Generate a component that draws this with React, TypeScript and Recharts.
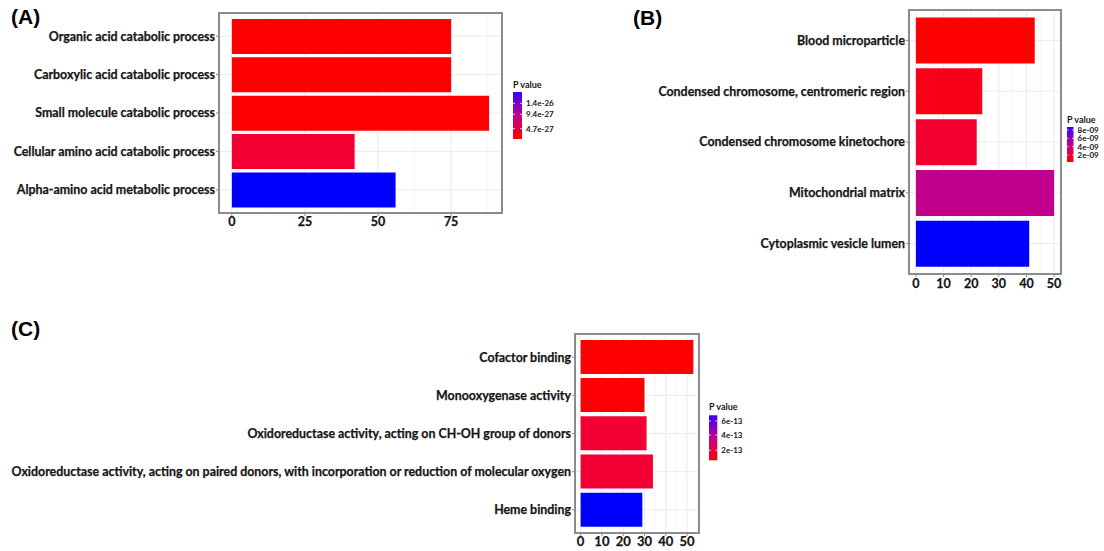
import React from 'react';
import { BarChart, Bar, XAxis, YAxis, CartesianGrid, Cell } from 'recharts';

// ---------- Data ----------
const categoriesA = [
  'Organic acid catabolic process',
  'Carboxylic acid catabolic process',
  'Small molecule catabolic process',
  'Cellular amino acid catabolic process',
  'Alpha-amino acid metabolic process',
];
const countsA = [75, 75, 88, 42, 56];
const xTicksA = [0, 25, 50, 75];
const minorTicksA = [12.5, 37.5, 62.5, 87.5];
const legendLabelsA = ['1.4e-26', '9.4e-27', '4.7e-27'];

const categoriesB = [
  'Blood microparticle',
  'Condensed chromosome, centromeric region',
  'Condensed chromosome kinetochore',
  'Mitochondrial matrix',
  'Cytoplasmic vesicle lumen',
];
const countsB = [43, 24, 22, 50, 41];
const xTicksB = [0, 10, 20, 30, 40, 50];
const minorTicksB = [5, 15, 25, 35, 45];
const legendLabelsB = ['8e-09', '6e-09', '4e-09', '2e-09'];

const categoriesC = [
  'Cofactor binding',
  'Monooxygenase activity',
  'Oxidoreductase activity, acting on CH-OH group of donors',
  'Oxidoreductase activity, acting on paired donors, with incorporation or reduction of molecular oxygen',
  'Heme binding',
];
const countsC = [53, 30, 31, 34, 29];
const xTicksC = [0, 10, 20, 30, 40, 50];
const minorTicksC = [5, 15, 25, 35, 45, 55];
const legendLabelsC = ['6e-13', '4e-13', '2e-13'];

// ---------- Styles ----------
const fillsA = ['#FF0000', '#FF0000', '#FF0000', '#F20034', '#0000FF'];
const fillsB = ['#FF0000', '#F90018', '#F3002E', '#C3008C', '#0000FF'];
const fillsC = ['#FF0000', '#FE0004', '#F20034', '#F20034', '#0000FF'];

const LABEL_FONT = 'Lato, "Open Sans", sans-serif';
const TITLE_FONT = '"Liberation Sans", Arial, sans-serif';
const BORDER = '#8c8c8c';
const TEXT = '#161616';

type Box = { l: number; t: number; r: number; b: number };

type PanelProps = {
  categories: string[];
  values: number[];
  fills: string[];
  domain: [number, number];
  ticks: number[];
  minor: number[];
  chart: { left: number; top: number; w: number; h: number };
  plot: Box;
  pad: number;
  yFont: number;
  xFont: number;
  xDy: number;
};

function Panel(p: PanelProps) {
  const rows = p.categories.map((c, i) => ({ name: c, value: p.values[i] }));
  const yWidth = p.plot.l - p.chart.left;
  const xHeight = p.chart.top + p.chart.h - p.plot.b;
  const mTop = p.plot.t - p.chart.top;
  const mRight = p.chart.left + p.chart.w - p.plot.r;

  const YTick = (props: any) => {
    const { x, y, payload } = props;
    return (
      <text
        x={x}
        y={y}
        dy={p.yFont * 0.36}
        textAnchor="end"
        fontFamily={LABEL_FONT}
        fontWeight={700}
        fontSize={p.yFont}
        fill={TEXT}
        stroke={TEXT}
        strokeWidth={0.25}
      >
        {payload.value}
      </text>
    );
  };
  const XTick = (props: any) => {
    const { x, y, payload } = props;
    return (
      <text
        x={x}
        y={y}
        dy={p.xDy}
        textAnchor="middle"
        fontFamily={LABEL_FONT}
        fontWeight={700}
        fontSize={p.xFont}
        fill={TEXT}
        stroke={TEXT}
        strokeWidth={0.25}
      >
        {payload.value}
      </text>
    );
  };

  return (
    <>
      <div style={{ position: 'absolute', left: p.chart.left, top: p.chart.top }}>
        <BarChart
          width={p.chart.w}
          height={p.chart.h}
          data={rows}
          layout="vertical"
          margin={{ top: mTop, right: mRight, bottom: 0, left: 0 }}
          barCategoryGap="5%"
        >
          <CartesianGrid
            stroke="#f4f4f4"
            strokeWidth={0.8}
            horizontal={false}
            verticalValues={p.minor}
          />
          <CartesianGrid stroke="#ebebeb" strokeWidth={1} />
          <XAxis
            type="number"
            domain={p.domain}
            ticks={p.ticks}
            allowDataOverflow
            axisLine={false}
            tickLine={{ stroke: BORDER }}
            tickSize={3}
            tickMargin={2}
            height={xHeight}
            tick={<XTick />}
            interval={0}
          />
          <YAxis
            type="category"
            dataKey="name"
            width={yWidth}
            axisLine={false}
            tickLine={{ stroke: BORDER }}
            tickSize={3}
            tickMargin={1}
            interval={0}
            padding={{ top: p.pad, bottom: p.pad }}
            tick={<YTick />}
          />
          <Bar dataKey="value" isAnimationActive={false}>
            {rows.map((r, i) => (
              <Cell key={r.name} fill={p.fills[i]} />
            ))}
          </Bar>
        </BarChart>
      </div>
      <div
        style={{
          position: 'absolute',
          left: p.plot.l - 1,
          top: p.plot.t - 1,
          width: p.plot.r - p.plot.l + 2,
          height: p.plot.b - p.plot.t + 2,
          border: `2px solid ${BORDER}`,
          boxSizing: 'border-box',
          pointerEvents: 'none',
        }}
      />
    </>
  );
}

type LegendProps = {
  id: string;
  x: number;
  titleY: number;
  barY: number;
  barW: number;
  barH: number;
  labels: string[];
  labelY: number[];
  titleFont: number;
  labelFont: number;
};

function ColorLegend(l: LegendProps) {
  const w = 60;
  const top = l.titleY - 8;
  const h = l.barY + l.barH - top + 4;
  return (
    <svg style={{ position: 'absolute', left: l.x, top }} width={w} height={h}>
      <defs>
        <linearGradient id={l.id} x1="0" y1="0" x2="0" y2="1">
          <stop offset="0%" stopColor="#3300FF" />
          <stop offset="50%" stopColor="#C2008E" />
          <stop offset="100%" stopColor="#FF0000" />
        </linearGradient>
      </defs>
      <text
        x={0}
        y={l.titleY - top + l.titleFont * 0.36}
        fontFamily={LABEL_FONT}
        fontWeight={700}
        fontSize={l.titleFont}
        fill={TEXT}
      >
        P value
      </text>
      <rect x={0} y={l.barY - top} width={l.barW} height={l.barH} fill={`url(#${l.id})`} />
      {l.labels.map((s, i) => {
        const yy = l.labelY[i] - top;
        return (
          <g key={s}>
            <line x1={0} x2={l.barW * 0.22} y1={yy} y2={yy} stroke="#ffffff" strokeWidth={0.8} />
            <line x1={l.barW * 0.78} x2={l.barW} y1={yy} y2={yy} stroke="#ffffff" strokeWidth={0.8} />
            <text
              x={l.barW + 4}
              y={yy + l.labelFont * 0.36}
              fontFamily={LABEL_FONT}
              fontWeight={700}
              fontSize={l.labelFont}
              fill={TEXT}
            >
              {s}
            </text>
          </g>
        );
      })}
    </svg>
  );
}

function Title({ text, x, y }: { text: string; x: number; y: number }) {
  return (
    <div
      style={{
        position: 'absolute',
        left: x,
        top: y,
        fontFamily: TITLE_FONT,
        fontWeight: 700,
        fontSize: 21,
        lineHeight: '24px',
        color: '#000',
      }}
    >
      {text}
    </div>
  );
}

export default function App() {
  return (
    <div
      style={{
        position: 'absolute',
        left: 0,
        top: 0,
        width: 1104,
        height: 551,
        background: '#ffffff',
        overflow: 'hidden',
      }}
    >
      <Title text="(A)" x={11} y={5} />
      <Title text="(B)" x={633} y={6} />
      <Title text="(C)" x={11} y={317} />

      <Panel
        categories={categoriesA}
        values={countsA}
        fills={fillsA}
        domain={[-4.4, 92.4]}
        ticks={xTicksA}
        minor={minorTicksA}
        chart={{ left: 0, top: 0, w: 520, h: 240 }}
        plot={{ l: 219, t: 13, r: 502, b: 213 }}
        pad={4}
        yFont={12.4}
        xFont={12.5}
        xDy={7.5}
      />
      <Panel
        categories={categoriesB}
        values={countsB}
        fills={fillsB}
        domain={[-2.5, 52.5]}
        ticks={xTicksB}
        minor={minorTicksB}
        chart={{ left: 640, top: 0, w: 440, h: 300 }}
        plot={{ l: 909, t: 10, r: 1061, b: 274 }}
        pad={5}
        yFont={12.4}
        xFont={12.5}
        xDy={8.5}
      />
      <Panel
        categories={categoriesC}
        values={countsC}
        fills={fillsC}
        domain={[-2.65, 55.65]}
        ticks={xTicksC}
        minor={minorTicksC}
        chart={{ left: 0, top: 320, w: 740, h: 231 }}
        plot={{ l: 575, t: 334, r: 699, b: 533 }}
        pad={4}
        yFont={12.4}
        xFont={13}
        xDy={7.5}
      />

      <ColorLegend
        id="gradA"
        x={513}
        titleY={85}
        barY={92}
        barW={9}
        barH={47}
        labels={legendLabelsA}
        labelY={[103.3, 114.3, 128.7]}
        titleFont={9}
        labelFont={8}
      />
      <ColorLegend
        id="gradB"
        x={1067}
        titleY={120}
        barY={127}
        barW={6.5}
        barH={35}
        labels={legendLabelsB}
        labelY={[130, 138.3, 146.7, 155]}
        titleFont={9}
        labelFont={8}
      />
      <ColorLegend
        id="gradC"
        x={709}
        titleY={406.7}
        barY={415}
        barW={8.3}
        barH={45}
        labels={legendLabelsC}
        labelY={[420.7, 434.7, 450]}
        titleFont={9}
        labelFont={8}
      />
    </div>
  );
}
